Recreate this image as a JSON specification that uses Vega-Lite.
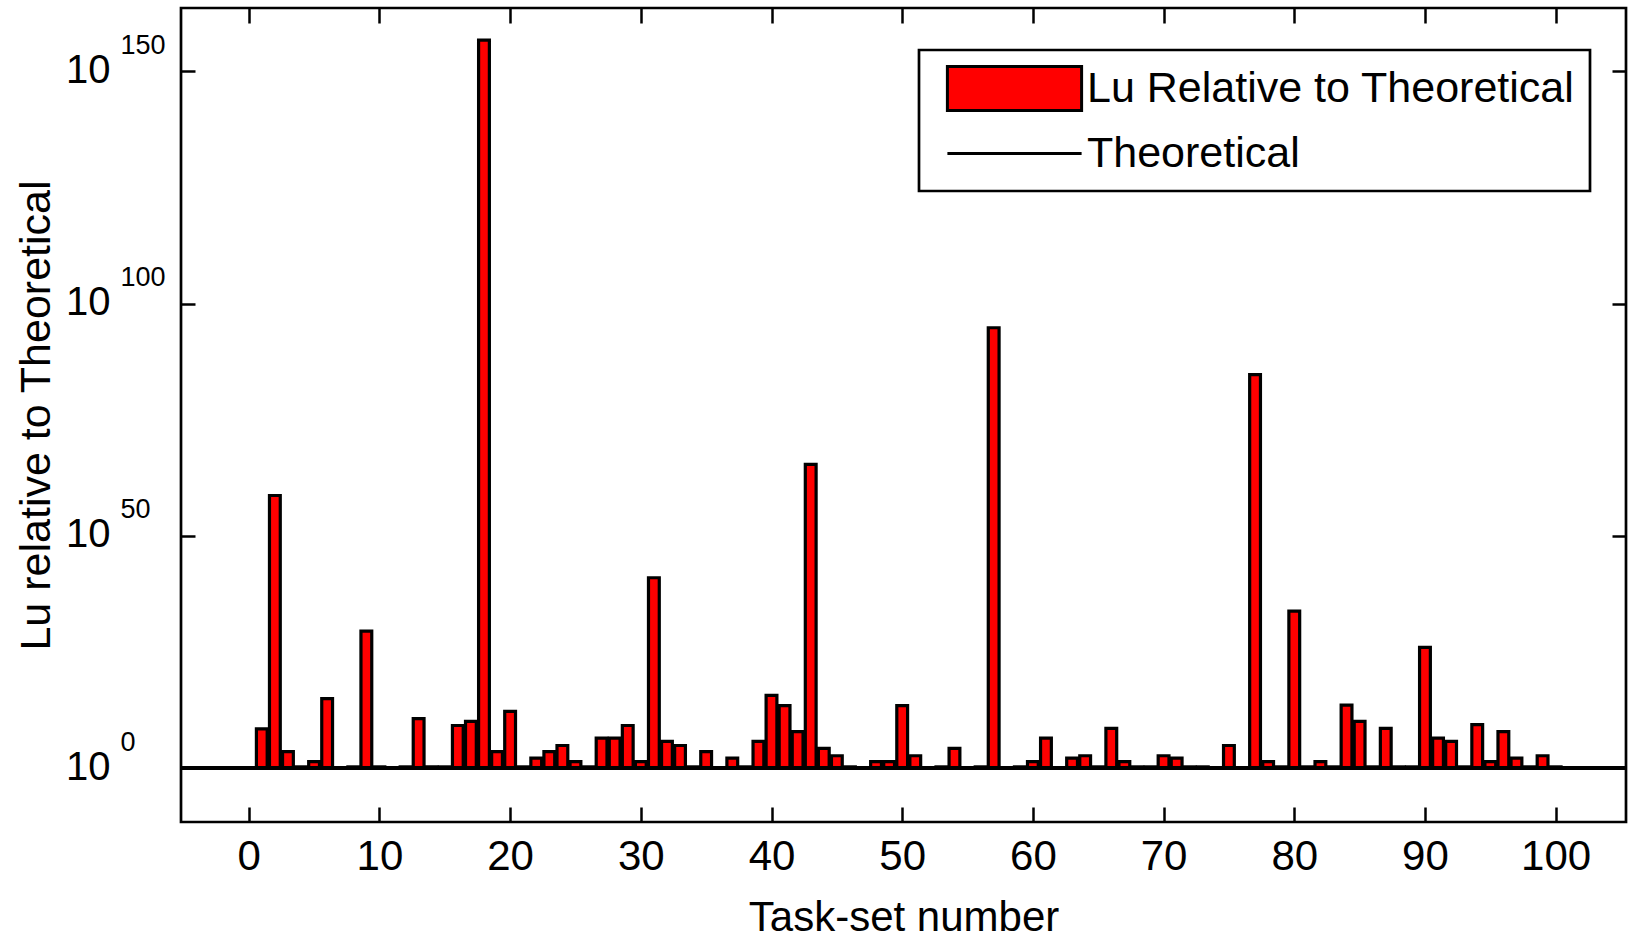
{
  "$schema": "https://vega.github.io/schema/vega-lite/v6.json",
  "width": 1445,
  "height": 814,
  "autosize": "none",
  "padding": {"left": 181, "top": 8, "right": 8, "bottom": 112},
  "background": "white",
  "config": {
    "view": {"stroke": "black", "strokeWidth": 2.7},
    "font": "Liberation Sans",
    "axis": {"grid": false, "domain": false, "labelFont": "Liberation Sans", "titleFont": "Liberation Sans", "labelColor": "black", "titleColor": "black", "tickColor": "black", "titleFontWeight": "normal", "labelFlush": false, "labelOverlap": false},
    "legend": {"strokeColor": "black", "strokeWidth": 2.7, "fillColor": "white"}
  },
  "data": {"values": [
    {"task": 1, "log10_ratio": 8.5}, {"task": 2, "log10_ratio": 58.7}, {"task": 3, "log10_ratio": 3.6}, {"task": 4, "log10_ratio": 0.3}, {"task": 5, "log10_ratio": 1.45},
    {"task": 6, "log10_ratio": 15}, {"task": 7, "log10_ratio": 0}, {"task": 8, "log10_ratio": 0.3}, {"task": 9, "log10_ratio": 29.5}, {"task": 10, "log10_ratio": 0.3},
    {"task": 11, "log10_ratio": 0}, {"task": 12, "log10_ratio": 0.3}, {"task": 13, "log10_ratio": 10.7}, {"task": 14, "log10_ratio": 0.3}, {"task": 15, "log10_ratio": 0.3},
    {"task": 16, "log10_ratio": 9.2}, {"task": 17, "log10_ratio": 10.1}, {"task": 18, "log10_ratio": 156.7}, {"task": 19, "log10_ratio": 3.6}, {"task": 20, "log10_ratio": 12.25},
    {"task": 21, "log10_ratio": 0.3}, {"task": 22, "log10_ratio": 2.2}, {"task": 23, "log10_ratio": 3.6}, {"task": 24, "log10_ratio": 4.9}, {"task": 25, "log10_ratio": 1.45},
    {"task": 26, "log10_ratio": 0.3}, {"task": 27, "log10_ratio": 6.5}, {"task": 28, "log10_ratio": 6.5}, {"task": 29, "log10_ratio": 9.2}, {"task": 30, "log10_ratio": 1.45},
    {"task": 31, "log10_ratio": 41.0}, {"task": 32, "log10_ratio": 5.8}, {"task": 33, "log10_ratio": 4.9}, {"task": 34, "log10_ratio": 0.3}, {"task": 35, "log10_ratio": 3.6},
    {"task": 36, "log10_ratio": 0}, {"task": 37, "log10_ratio": 2.2}, {"task": 38, "log10_ratio": 0.3}, {"task": 39, "log10_ratio": 5.8}, {"task": 40, "log10_ratio": 15.7},
    {"task": 41, "log10_ratio": 13.5}, {"task": 42, "log10_ratio": 7.9}, {"task": 43, "log10_ratio": 65.4}, {"task": 44, "log10_ratio": 4.3}, {"task": 45, "log10_ratio": 2.7},
    {"task": 46, "log10_ratio": 0.3}, {"task": 47, "log10_ratio": 0}, {"task": 48, "log10_ratio": 1.45}, {"task": 49, "log10_ratio": 1.45}, {"task": 50, "log10_ratio": 13.5},
    {"task": 51, "log10_ratio": 2.7}, {"task": 52, "log10_ratio": 0}, {"task": 53, "log10_ratio": 0.3}, {"task": 54, "log10_ratio": 4.3}, {"task": 55, "log10_ratio": 0},
    {"task": 56, "log10_ratio": 0.3}, {"task": 57, "log10_ratio": 94.8}, {"task": 58, "log10_ratio": 0}, {"task": 59, "log10_ratio": 0.3}, {"task": 60, "log10_ratio": 1.45},
    {"task": 61, "log10_ratio": 6.5}, {"task": 62, "log10_ratio": 0}, {"task": 63, "log10_ratio": 2.2}, {"task": 64, "log10_ratio": 2.7}, {"task": 65, "log10_ratio": 0.3},
    {"task": 66, "log10_ratio": 8.6}, {"task": 67, "log10_ratio": 1.45}, {"task": 68, "log10_ratio": 0.3}, {"task": 69, "log10_ratio": 0.3}, {"task": 70, "log10_ratio": 2.7},
    {"task": 71, "log10_ratio": 2.2}, {"task": 72, "log10_ratio": 0.3}, {"task": 73, "log10_ratio": 0.3}, {"task": 74, "log10_ratio": 0}, {"task": 75, "log10_ratio": 4.9},
    {"task": 76, "log10_ratio": 0}, {"task": 77, "log10_ratio": 84.7}, {"task": 78, "log10_ratio": 1.45}, {"task": 79, "log10_ratio": 0.3}, {"task": 80, "log10_ratio": 33.8},
    {"task": 81, "log10_ratio": 0.3}, {"task": 82, "log10_ratio": 1.45}, {"task": 83, "log10_ratio": 0.3}, {"task": 84, "log10_ratio": 13.6}, {"task": 85, "log10_ratio": 10.1},
    {"task": 86, "log10_ratio": 0.3}, {"task": 87, "log10_ratio": 8.6}, {"task": 88, "log10_ratio": 0.3}, {"task": 89, "log10_ratio": 0.3}, {"task": 90, "log10_ratio": 26.0},
    {"task": 91, "log10_ratio": 6.5}, {"task": 92, "log10_ratio": 5.8}, {"task": 93, "log10_ratio": 0.3}, {"task": 94, "log10_ratio": 9.4}, {"task": 95, "log10_ratio": 1.45},
    {"task": 96, "log10_ratio": 7.9}, {"task": 97, "log10_ratio": 2.2}, {"task": 98, "log10_ratio": 0.3}, {"task": 99, "log10_ratio": 2.7}, {"task": 100, "log10_ratio": 0.3}
  ]},
  "resolve": {"axis": {"x": "independent", "y": "independent"}},
  "layer": [
    {
      "mark": {"type": "bar", "stroke": "black", "strokeWidth": 3.2, "size": 10.8, "opacity": 1},
      "encoding": {
        "x": {"field": "task", "type": "quantitative",
          "scale": {"domain": [-4.8, 105], "nice": false, "zero": false},
          "axis": {"orient": "bottom", "values": [0, 10, 20, 30, 40, 50, 60, 70, 80, 90, 100], "tickSize": -15, "tickWidth": 2.5, "labelFontSize": 42, "labelBaseline": "alphabetic", "labelPadding": 62, "title": "Task-set number", "titleFontSize": 42, "titleBaseline": "alphabetic", "titleY": 108, "titleAnchor": "middle"}},
        "y": {"field": "log10_ratio", "type": "quantitative",
          "scale": {"domain": [-11.56, 163.6], "nice": false, "zero": false},
          "axis": {"orient": "left", "values": [0, 50, 100, 150], "labelExpr": "'10'", "tickSize": -14, "tickWidth": 2.5, "labelFontSize": 40, "labelAlign": "right", "labelBaseline": "middle", "labelPadding": 85, "labelOffset": -1, "title": "Lu relative to Theoretical", "titleFontSize": 43, "titleAngle": 270, "titleBaseline": "alphabetic", "titleX": -132, "titleAnchor": "middle"}},
        "y2": {"datum": 0},
        "fill": {"datum": "Lu Relative to Theoretical",
          "scale": {"domain": ["Lu Relative to Theoretical", "Theoretical"], "range": ["#ff0000", "transparent"]},
          "legend": {"orient": "none", "legendX": 738, "legendY": 42, "title": null, "padding": 15,
            "labelFont": "Liberation Sans", "labelFontSize": 43, "labelColor": "black", "labelLimit": 0,
            "symbolSize": 1936, "symbolOffset": 57, "labelOffset": 49, "rowPadding": 13,
            "symbolStrokeWidth": 3, "symbolStrokeColor": "black", "symbolOpacity": 1}}
      }
    },
    {
      "mark": {"type": "rule", "strokeWidth": 3, "color": "black"},
      "encoding": {
        "y": {"datum": 0, "type": "quantitative",
          "axis": {"orient": "left", "values": [0, 50, 100, 150], "ticks": false, "labelFontSize": 27, "labelAlign": "left", "labelBaseline": "middle", "labelPadding": 61, "labelOffset": -26, "title": null}}
      }
    },
    {
      "mark": {"type": "point", "opacity": 0},
      "encoding": {
        "x": {"datum": 50, "type": "quantitative",
          "axis": {"orient": "top", "values": [0, 10, 20, 30, 40, 50, 60, 70, 80, 90, 100], "tickSize": -15, "tickWidth": 2.5, "labels": false, "title": null}},
        "y": {"datum": 0, "type": "quantitative",
          "axis": {"orient": "right", "values": [0, 50, 100, 150], "tickSize": -14, "tickWidth": 2.5, "labels": false, "title": null}},
        "shape": {"datum": "Theoretical",
          "scale": {"domain": ["Lu Relative to Theoretical", "Theoretical"], "range": ["M-3.05,-1H3.05V1H-3.05Z", "M-3.05,0H3.05"]},
          "legend": {"orient": "none", "legendX": 738, "legendY": 42, "title": null, "padding": 15,
            "labelFont": "Liberation Sans", "labelFontSize": 43, "labelColor": "black", "labelLimit": 0,
            "symbolSize": 1936, "symbolOffset": 57, "labelOffset": 49, "rowPadding": 13,
            "symbolStrokeWidth": 3, "symbolStrokeColor": "black", "symbolOpacity": 1}}
      }
    }
  ]
}
